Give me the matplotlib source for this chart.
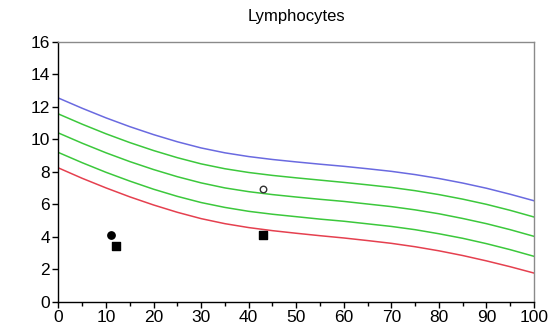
import numpy as np
import matplotlib
matplotlib.use("Agg")
import matplotlib.pyplot as plt
from matplotlib.ticker import MultipleLocator

plt.rcParams['font.family'] = ['Liberation Sans', 'DejaVu Sans']

# percentile curves, x = 0..100 step 5
x = list(range(0, 101, 5))
upper = [12.55, 11.92, 11.33, 10.79, 10.3, 9.86, 9.48, 9.18, 8.95, 8.77, 8.62,
         8.48, 8.35, 8.2, 8.04, 7.84, 7.6, 7.32, 7.0, 6.63, 6.23]
mid_hi = [11.57, 10.94, 10.35, 9.81, 9.32, 8.88, 8.5, 8.2, 7.97, 7.79, 7.64,
          7.5, 7.36, 7.21, 7.05, 6.85, 6.61, 6.33, 6.01, 5.64, 5.23]
mid = [10.4, 9.77, 9.18, 8.64, 8.15, 7.71, 7.33, 7.02, 6.79, 6.61, 6.46,
       6.32, 6.19, 6.03, 5.87, 5.67, 5.43, 5.14, 4.82, 4.45, 4.04]
mid_lo = [9.2, 8.57, 7.98, 7.44, 6.94, 6.5, 6.12, 5.82, 5.58, 5.4, 5.25,
          5.1, 4.97, 4.81, 4.65, 4.45, 4.2, 3.92, 3.59, 3.22, 2.81]
lower = [8.25, 7.61, 7.02, 6.47, 5.97, 5.52, 5.13, 4.82, 4.58, 4.39, 4.23,
         4.08, 3.94, 3.78, 3.61, 3.4, 3.15, 2.86, 2.53, 2.17, 1.78]

# measured points
circ_x, circ_y = [11], [4.15]
sq_x, sq_y = [12, 43], [3.45, 4.15]
open_x, open_y = [43], [6.95]

fig = plt.figure(figsize=(5.59, 3.33), dpi=100)
ax = fig.add_axes([0.1046, 0.0931, 0.8507, 0.7808])

ax.plot(x, upper, color='#6a6ae0', lw=1.1)
for s in (mid_hi, mid, mid_lo):
    ax.plot(x, s, color='#3cc83c', lw=1.1)
ax.plot(x, lower, color='#e5404f', lw=1.1)

ax.scatter(circ_x, circ_y, s=28, marker='o', color='black', zorder=3)
ax.scatter(sq_x, sq_y, s=36, marker='s', color='black', zorder=3)
ax.scatter(open_x, open_y, s=22, marker='o', facecolor='white',
           edgecolor='#333333', linewidth=1.0, zorder=3)

ax.set_xlim(0, 100)
ax.set_ylim(0, 16)
ax.xaxis.set_major_locator(MultipleLocator(10))
ax.xaxis.set_minor_locator(MultipleLocator(5))
ax.yaxis.set_major_locator(MultipleLocator(2))

for side in ('top', 'right'):
    ax.spines[side].set_color('#8a8a8a')
    ax.spines[side].set_linewidth(1.0)
for side in ('left', 'bottom'):
    ax.spines[side].set_color('black')
    ax.spines[side].set_linewidth(1.0)

ax.tick_params(axis='both', which='major', direction='out', length=4,
               width=1, labelsize=12.5, colors='black', pad=2)
ax.tick_params(axis='x', which='minor', direction='out', length=3, width=1)

ax.set_title('Lymphocytes', fontsize=12, pad=15)

fig.savefig('out.png', dpi=100)
